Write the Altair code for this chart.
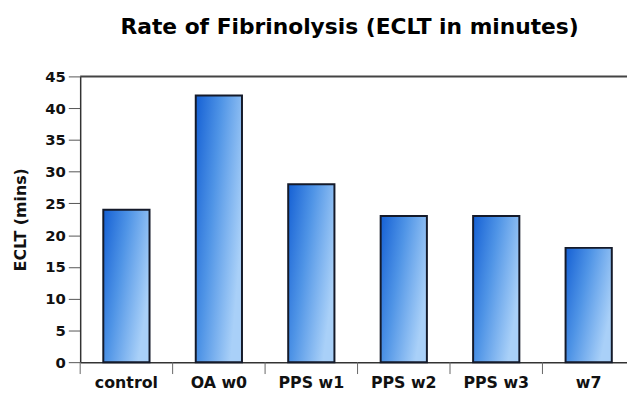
import altair as alt
import pandas as pd

categories = ["control", "OA w0", "PPS w1", "PPS w2", "PPS w3", "w7"]
eclt_values = [24, 42, 28, 23, 23, 18]
y_ticks = [0, 5, 10, 15, 20, 25, 30, 35, 40, 45]

df = pd.DataFrame({"group": categories, "eclt": eclt_values})

W = 553
H = 289
STEP = 93.5
FONT = "DejaVu Sans"

xscale = alt.Scale(domain=categories, range=[0, STEP * 6], paddingInner=0, paddingOuter=0)
yscale = alt.Scale(domain=[0, 45], nice=False)

grad = alt.Gradient(
    gradient="linear",
    stops=[alt.GradientStop(color="#1560d4", offset=0),
           alt.GradientStop(color="#4f94e6", offset=0.45),
           alt.GradientStop(color="#a9d0f8", offset=1)],
    x1=0, y1=0, x2=1, y2=0.5,
)

base = alt.Chart(df)

bars = base.mark_bar(
    width=alt.RelativeBandSize(0.5), color=grad, stroke="#141a2a", strokeWidth=2
).encode(
    x=alt.X("group:N", scale=xscale, sort=categories,
            axis=alt.Axis(title=None, ticks=False, labelAngle=0, labelFont=FONT,
                          labelFontSize=16, labelFontWeight="bold", labelColor="#111",
                          labelPadding=13, domainColor="#333", domainWidth=1.5)),
    y=alt.Y("eclt:Q", scale=yscale,
            axis=alt.Axis(title="ECLT (mins)", values=y_ticks, grid=False,
                          tickSize=12, tickColor="#555", tickWidth=1,
                          labelFont=FONT, labelFontSize=15, labelFontWeight="bold",
                          labelColor="#111", labelPadding=3,
                          titleFont=FONT, titleFontSize=16, titleFontWeight="bold",
                          titleColor="#111", titlePadding=16,
                          domainColor="#333", domainWidth=1.5)),
)

sep_ticks = base.mark_rule(xOffset=-STEP / 2, color="#666", strokeWidth=1).encode(
    x=alt.X("group:N", scale=xscale, sort=categories),
    y=alt.value(H),
    y2=alt.value(H + 12),
)

top_line = alt.Chart(pd.DataFrame({"a": [0]})).mark_rule(color="#444", strokeWidth=2).encode(
    x=alt.value(0), x2=alt.value(STEP * 6), y=alt.value(0)
)

chart = alt.layer(bars, sep_ticks, top_line).properties(
    width=W,
    height=H,
    padding={"left": 73, "top": 67, "right": 0, "bottom": 29},
    autosize="none",
    title=alt.TitleParams(
        "Rate of Fibrinolysis (ECLT in minutes)",
        font=FONT, fontSize=22, fontWeight="bold", color="#000",
        anchor="middle", offset=31, dx=-4,
    ),
).configure_view(stroke=None)

chart.save("out.html", embed_options={"renderer": "svg", "actions": False})
